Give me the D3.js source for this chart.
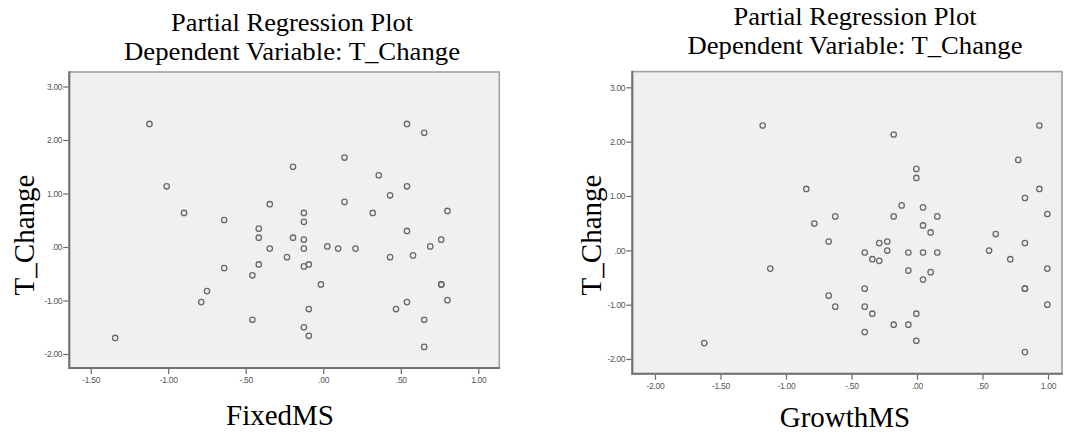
<!DOCTYPE html>
<html>
<head>
<meta charset="utf-8">
<script src="https://cdn.jsdelivr.net/npm/d3@7/dist/d3.min.js"></script>
<style>
  html, body { margin: 0; padding: 0; background: #ffffff; }
  svg { display: block; }
</style>
</head>
<body>
<svg id="chart" width="1078" height="444"></svg>
<script>
// ---------- DATA ----------
const titleLine1 = "Partial Regression Plot";
const titleLine2 = "Dependent Variable: T_Change";
const yLabel = "T_Change";
const xLabels = ["FixedMS", "GrowthMS"];

const yTicks = [-2, -1, 0, 1, 2, 3];
const yTickLabels = ["-2.00", "-1.00", ".00", "1.00", "2.00", "3.00"];
const fixedXTicks = [-1.5, -1, -0.5, 0, 0.5, 1];
const fixedXTickLabels = ["-1.50", "-1.00", "-.50", ".00", ".50", "1.00"];
const growthXTicks = [-2, -1.5, -1, -0.5, 0, 0.5, 1];
const growthXTickLabels = ["-2.00", "-1.50", "-1.00", "-.50", ".00", ".50", "1.00"];

// Left panel: FixedMS (x) vs T_Change (y)
const fixedX = [-1.342, -1.121, -1.010, -0.898, -0.787, -0.750, -0.639, -0.639, -0.457, -0.457,
  -0.416, -0.416, -0.416, -0.345, -0.345, -0.234, -0.195, -0.195, -0.125, -0.125,
  -0.125, -0.125, -0.125, -0.125, -0.093, -0.093, -0.093, -0.015, 0.026, 0.096,
  0.137, 0.137, 0.208, 0.319, 0.358, 0.431, 0.431, 0.469, 0.540, 0.540,
  0.540, 0.540, 0.579, 0.651, 0.651, 0.651, 0.690, 0.761, 0.761, 0.761,
  0.801, 0.801];
const fixedY = [-1.70, 2.30, 1.135, 0.636, -1.03, -0.824, 0.505, -0.394, -0.53, -1.36,
  0.343, 0.174, -0.326, 0.80, -0.03, -0.19, 1.50, 0.174, 0.636, 0.47,
  0.137, -0.03, -0.363, -1.50, -0.326, -1.16, -1.66, -0.70, 0.011, -0.03,
  1.672, 0.843, -0.03, 0.636, 1.341, 0.966, -0.19, -1.16, 2.30, 1.135,
  0.30, -1.03, -0.157, 2.135, -1.36, -1.867, 0.011, 0.137, -0.70, -0.70,
  0.674, -0.993];

// Right panel: GrowthMS (x) vs T_Change (y)
const growthX = [-1.624, -1.178, -1.120, -0.845, -0.784, -0.674, -0.674, -0.624, -0.624, -0.399,
  -0.399, -0.399, -0.399, -0.341, -0.341, -0.288, -0.288, -0.227, -0.227, -0.178,
  -0.178, -0.178, -0.117, -0.066, -0.066, -0.066, -0.005, -0.005, -0.005, -0.005,
  0.046, 0.046, 0.046, 0.046, 0.104, 0.104, 0.155, 0.155, 0.550, 0.601,
  0.712, 0.773, 0.824, 0.824, 0.824, 0.824, 0.824, 0.934, 0.934, 0.995,
  0.995, 0.995];
const growthY = [-1.707, 2.297, -0.336, 1.129, 0.494, 0.162, -0.834, 0.624, -1.037, -0.04,
  -0.705, -1.037, -1.504, -0.163, -1.166, 0.133, -0.194, 0.162, -0.004, 2.131,
  0.624, -1.369, 0.827, -0.04, -0.373, -1.369, 1.498, 1.332, -1.166, -1.664,
  0.790, 0.458, -0.04, -0.539, 0.329, -0.402, 0.624, -0.04, -0.004, 0.299,
  -0.163, 1.664, 0.963, 0.133, -0.705, -0.705, -1.873, 2.297, 1.129, 0.668,
  -0.336, -1.0];

// ---------- LAYOUT ----------
const panels = [
  {
    xs: fixedX, ys: fixedY, xLabel: xLabels[0],
    xTicks: fixedXTicks, xTickLabels: fixedXTickLabels,
    xDomain: [-1.5, 1], xRange: [90.7, 478.3],
    yDomain: [-2, 3], yRange: [354, 86.5],
    frame: { x0: 69.3, x1: 499.3, y0: 72, y1: 368 },
    title: { cx: 292, b1: 30.5, b2: 59.5, w1: 242, w2: 336 },
    yLab: { x: 33.5, cy: 235 },
    xLab: { cx: 280, b: 425 }
  },
  {
    xs: growthX, ys: growthY, xLabel: xLabels[1],
    xTicks: growthXTicks, xTickLabels: growthXTickLabels,
    xDomain: [-2, 1], xRange: [655, 1048],
    yDomain: [-2, 3], yRange: [359, 87.3],
    frame: { x0: 632.3, x1: 1062, y0: 71.6, y1: 373.7 },
    title: { cx: 855, b1: 25, b2: 54, w1: 243, w2: 335 },
    yLab: { x: 601, cy: 235 },
    xLab: { cx: 845, b: 426.5 }
  }
];

const svg = d3.select("#chart");
const serif = "'Liberation Serif', 'Times New Roman', serif";
const sans = "'Liberation Sans', Arial, sans-serif";

panels.forEach(p => {
  const g = svg.append("g");
  const x = d3.scaleLinear().domain(p.xDomain).range(p.xRange);
  const y = d3.scaleLinear().domain(p.yDomain).range(p.yRange);
  const f = p.frame;

  // plot background + frame
  g.append("rect")
    .attr("x", f.x0).attr("y", f.y0)
    .attr("width", f.x1 - f.x0).attr("height", f.y1 - f.y0)
    .attr("fill", "#f0f0f0")
    .attr("stroke", "#a0a0a0").attr("stroke-width", 1.6);
  g.append("line").attr("x1", f.x0).attr("x2", f.x0).attr("y1", f.y0 - 0.8).attr("y2", f.y1 + 0.8)
    .attr("stroke", "#707070").attr("stroke-width", 2);
  g.append("line").attr("x1", f.x0 - 0.8).attr("x2", f.x1 + 0.8).attr("y1", f.y1).attr("y2", f.y1)
    .attr("stroke", "#707070").attr("stroke-width", 2);

  // y axis
  const yAxis = d3.axisLeft(y).tickValues(yTicks)
    .tickFormat((d, i) => yTickLabels[i]).tickSize(5).tickPadding(1).tickSizeOuter(0);
  const ya = g.append("g").attr("transform", `translate(${f.x0 - 1},0)`).call(yAxis);
  ya.select(".domain").remove();
  ya.selectAll(".tick line").attr("stroke", "#6a6a6a").attr("stroke-width", 1.2);
  ya.selectAll(".tick text").attr("fill", "#555").style("font-family", sans)
    .style("font-size", "8.5px").attr("letter-spacing", "-0.3");

  // x axis
  const xAxis = d3.axisBottom(x).tickValues(p.xTicks)
    .tickFormat((d, i) => p.xTickLabels[i]).tickSize(5).tickPadding(3).tickSizeOuter(0);
  const xa = g.append("g").attr("transform", `translate(0,${f.y1 + 1})`).call(xAxis);
  xa.select(".domain").remove();
  xa.selectAll(".tick line").attr("stroke", "#6a6a6a").attr("stroke-width", 1.2);
  xa.selectAll(".tick text").attr("fill", "#555").style("font-family", sans)
    .style("font-size", "8.5px").attr("letter-spacing", "-0.3");

  // points
  g.append("g").selectAll("circle")
    .data(d3.range(p.xs.length))
    .join("circle")
    .attr("cx", i => x(p.xs[i]))
    .attr("cy", i => y(p.ys[i]))
    .attr("r", 2.7)
    .attr("fill", "none")
    .attr("stroke", "#6a6a6a")
    .attr("stroke-width", 1.3);

  // titles
  const t = p.title;
  g.append("text").text(titleLine1)
    .attr("x", t.cx).attr("y", t.b1).attr("text-anchor", "middle")
    .attr("textLength", t.w1).attr("lengthAdjust", "spacingAndGlyphs")
    .style("font-family", serif).style("font-size", "25.5px").attr("fill", "#000");
  g.append("text").text(titleLine2)
    .attr("x", t.cx).attr("y", t.b2).attr("text-anchor", "middle")
    .attr("textLength", t.w2).attr("lengthAdjust", "spacingAndGlyphs")
    .style("font-family", serif).style("font-size", "25.5px").attr("fill", "#000");

  // axis labels
  g.append("text").text(yLabel)
    .attr("transform", `translate(${p.yLab.x},${p.yLab.cy}) rotate(-90)`)
    .attr("text-anchor", "middle")
    .style("font-family", serif).style("font-size", "29px").attr("fill", "#000");
  g.append("text").text(p.xLabel)
    .attr("x", p.xLab.cx).attr("y", p.xLab.b).attr("text-anchor", "middle")
    .style("font-family", serif).style("font-size", "29px").attr("fill", "#000");
});
</script>
</body>
</html>
